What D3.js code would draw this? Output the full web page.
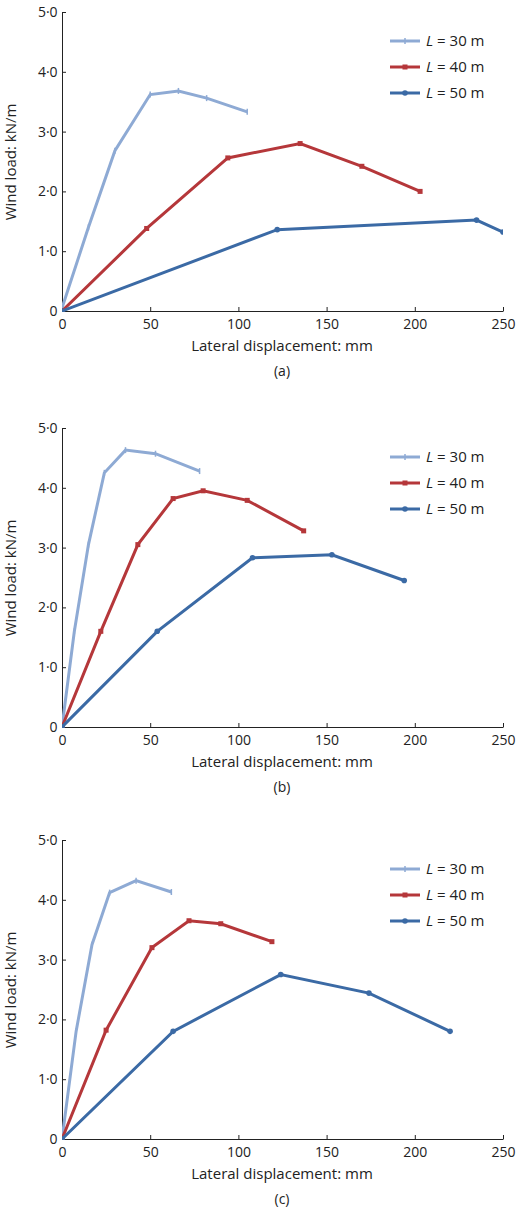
<!DOCTYPE html>
<html><head><meta charset="utf-8">
<script src="https://cdn.jsdelivr.net/npm/d3@7"></script>
<style>body{margin:0;background:#fff}text{font-family:"Open Sans","Noto Sans",sans-serif;fill:#222}</style>
</head><body><svg id="c" width="520" height="1220"></svg>
<script>
var seriesNames = ["30", "40", "50"];
var colors = ["#8eaad4", "#b5373a", "#3b6aa5"];
var xTicks = [0, 50, 100, 150, 200, 250];
var yTicks = [0, 1, 2, 3, 4, 5];
var panelLabels = ["(a)", "(b)", "(c)"];
var dataA = [
  [[0,0.05],[15,1.4],[30,2.68],[50,3.62],[66,3.68],[82,3.56],[105,3.33]],
  [[0,0],[48,1.38],[94,2.56],[135,2.8],[170,2.42],[203,2.0]],
  [[0,0],[122,1.36],[235,1.52],[250,1.32]]
];
var dataB = [
  [[0,0],[7,1.6],[15,3.05],[24,4.25],[36,4.63],[53,4.57],[78,4.28]],
  [[0,0],[22,1.6],[43,3.05],[63,3.82],[80,3.95],[105,3.79],[137,3.28]],
  [[0,0],[54,1.6],[108,2.83],[153,2.88],[194,2.45]]
];
var dataC = [
  [[0,0],[8,1.8],[17,3.25],[27,4.12],[42,4.32],[62,4.13]],
  [[0,0],[25,1.82],[51,3.2],[72,3.65],[90,3.6],[119,3.3]],
  [[0,0],[63,1.8],[124,2.75],[174,2.44],[220,1.8]]
];
var panels = [dataA, dataB, dataC];
var tops = [12, 428, 840];
var svg = d3.select("#c");
var fmt = function(d){ return d == 0 ? "0" : d.toFixed(1).replace(".", "\u00b7"); };

panels.forEach(function(data, p)
{
  var top = tops[p], bottom = top + 299;
  var x = d3.scaleLinear().domain([0,250]).range([62,503]);
  var y = d3.scaleLinear().domain([0,5]).range([bottom, top]);
  var g = svg.append("g");
  var clipId = "clip" + p;
  g.append("clipPath").attr("id", clipId).append("rect")
    .attr("x", 62).attr("y", top - 5).attr("width", 441).attr("height", 305);

  g.append("g").attr("transform", "translate(0," + bottom + ")")
    .call(d3.axisBottom(x).tickValues(xTicks).tickSize(-4).tickSizeOuter(0))
    .call(function(a){ a.selectAll("text").attr("font-size", 14).attr("dy", "1.1em"); a.selectAll("line,path").attr("stroke", "#222"); });
  g.append("g").attr("transform", "translate(62,0)")
    .call(d3.axisLeft(y).tickValues(yTicks).tickFormat(fmt).tickSize(-4).tickSizeOuter(0))
    .call(function(a){ a.selectAll("text").attr("font-size", 14).attr("dx", "-0.1em"); a.selectAll("line,path").attr("stroke", "#222"); });

  g.append("text").attr("x", 282).attr("y", bottom + 40).attr("text-anchor", "middle")
    .attr("font-size", 15).text("Lateral displacement: mm");
  g.append("text").attr("x", 282).attr("y", bottom + 65).attr("text-anchor", "middle")
    .attr("font-size", 14).text(panelLabels[p]);
  g.append("text").attr("transform", "translate(16," + (top + 150) + ") rotate(-90)")
    .attr("text-anchor", "middle").attr("font-size", 15).text("Wind load: kN/m");

  var line = d3.line().x(function(d){ return x(d[0]); }).y(function(d){ return y(d[1]); });
  data.forEach(function(s, i)
  {
    var sg = g.append("g").attr("clip-path", "url(#" + clipId + ")");
    sg.append("path").datum(s).attr("d", line).attr("fill", "none")
      .attr("stroke", colors[i]).attr("stroke-width", 3);
    s.forEach(function(d)
    {
      if(i == 0)
        sg.append("line").attr("x1", x(d[0])).attr("x2", x(d[0])).attr("y1", y(d[1]) - 3).attr("y2", y(d[1]) + 3)
          .attr("stroke", colors[i]).attr("stroke-width", 1.5);
      else if(i == 1)
        sg.append("rect").attr("x", x(d[0]) - 2.5).attr("y", y(d[1]) - 2.5).attr("width", 5).attr("height", 5).attr("fill", colors[i]);
      else
        sg.append("circle").attr("cx", x(d[0])).attr("cy", y(d[1])).attr("r", 2.8).attr("fill", colors[i]);
    });
    var ly = top + 29 + i * 26;
    g.append("line").attr("x1", 390).attr("x2", 420).attr("y1", ly).attr("y2", ly)
      .attr("stroke", colors[i]).attr("stroke-width", 3);
    if(i == 0)
      g.append("line").attr("x1", 405).attr("x2", 405).attr("y1", ly - 3).attr("y2", ly + 3).attr("stroke", colors[i]).attr("stroke-width", 1.5);
    else if(i == 1)
      g.append("rect").attr("x", 402.5).attr("y", ly - 2.5).attr("width", 5).attr("height", 5).attr("fill", colors[i]);
    else
      g.append("circle").attr("cx", 405).attr("cy", ly).attr("r", 2.8).attr("fill", colors[i]);
    var t = g.append("text").attr("x", 426).attr("y", ly + 5).attr("font-size", 15);
    t.append("tspan").attr("font-style", "italic").text("L");
    t.append("tspan").text(" = " + seriesNames[i] + " m");
  });
});
</script></body></html>
